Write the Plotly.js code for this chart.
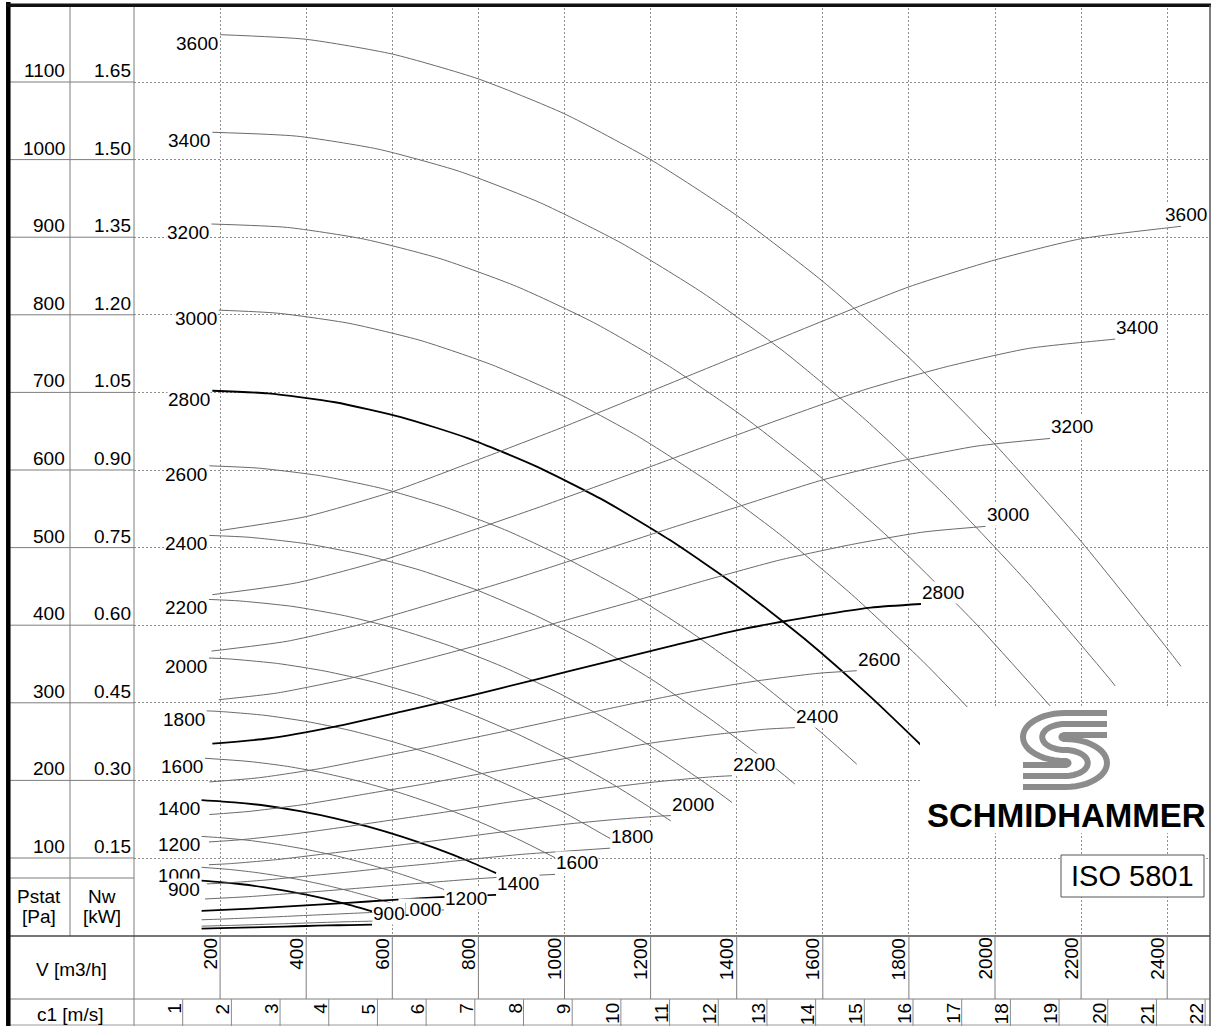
<!DOCTYPE html>
<html><head><meta charset="utf-8">
<script src="https://cdn.plot.ly/plotly-3.0.1.min.js"></script>
<style>html,body{margin:0;padding:0;background:#fff;}#chart{width:1213px;height:1026px;}</style>
</head><body><div id="chart"></div>
<script>
// ---------------- data ----------------
const rpms = [3600,3400,3200,3000,2800,2600,2400,2200,2000,1800,1600,1400,1200,1000,900];
const boldRpms = [2800,1400,900];

// V [m3/h], Pstat [Pa], Nw [kW]
const v3600 = [200,400,600,800,1000,1200,1400,1600,1800,2000,2200,2400,2432];
const p3600 = [1161,1155,1136,1104,1059,1000,928,843,745,633,508,370,347];
const nw3600 = [0.783,0.810,0.858,0.920,0.984,1.052,1.120,1.188,1.254,1.306,1.347,1.368,1.371];

const v3400 = [182,378,567,756,944,1133,1322,1511,1700,1889,2078,2267,2279];
const p3400 = [1035.2,1030.2,1013.5,984.8,944.3,892.1,827.9,752.0,664.3,564.8,453.5,330.3,321.8];
const nw3400 = [0.659,0.682,0.723,0.775,0.829,0.886,0.944,1.001,1.056,1.100,1.135,1.152,1.153];

const v3200 = [180,356,533,711,889,1067,1244,1422,1600,1778,1956,2128];
const p3200 = [917.0,912.6,897.7,872.4,836.5,790.2,733.4,666.2,588.5,500.3,401.7,296.0];
const nw3200 = [0.550,0.569,0.603,0.646,0.691,0.739,0.787,0.834,0.881,0.917,0.946,0.961];

const v3000 = [197,333,500,667,833,1000,1167,1333,1500,1667,1833,1978];
const p3000 = [806.0,802.1,789.0,766.7,735.2,694.5,644.6,585.5,517.2,439.7,353.1,270.1];
const nw3000 = [0.456,0.469,0.497,0.532,0.569,0.609,0.648,0.688,0.726,0.756,0.780,0.791];

const v2800 = [182,311,467,622,778,933,1089,1244,1400,1556,1711,1828];
const p2800 = [702.1,698.7,687.3,667.9,640.5,605.0,561.5,510.0,450.6,383.1,307.6,245.6];
const nw2800 = [0.371,0.381,0.404,0.433,0.463,0.495,0.527,0.559,0.590,0.614,0.634,0.641];

const v2600 = [175,289,433,578,722,867,1011,1156,1300,1444,1589,1679];
const p2600 = [605.4,602.4,592.6,575.9,552.2,521.7,484.1,439.8,388.5,330.3,265.2,220.9];
const nw2600 = [0.297,0.305,0.323,0.347,0.371,0.396,0.422,0.448,0.472,0.492,0.507,0.512];

const v2400 = [175,267,400,533,667,800,933,1067,1200,1333,1467,1535];
const p2400 = [515.7,513.3,505.0,490.7,470.5,444.5,412.5,374.7,331.0,281.4,226.0,195.4];
const nw2400 = [0.234,0.240,0.254,0.273,0.292,0.312,0.332,0.352,0.372,0.387,0.399,0.402];

const v2200 = [174,244,367,489,611,733,856,978,1100,1222,1344,1389];
const p2200 = [433.2,431.3,424.3,412.3,395.4,373.5,346.6,314.9,278.2,236.5,189.9,171.6];
const nw2200 = [0.181,0.185,0.196,0.210,0.225,0.240,0.256,0.271,0.286,0.298,0.307,0.309];

const v2000 = [174,222,333,444,556,667,778,889,1000,1111,1222,1247];
const p2000 = [357.7,356.5,350.7,340.8,326.8,308.7,286.5,260.2,229.9,195.4,156.9,147.7];
const nw2000 = [0.137,0.139,0.147,0.158,0.169,0.180,0.192,0.204,0.215,0.224,0.231,0.232];

const v1800 = [169,200,300,400,500,600,700,800,900,1000,1106];
const p1800 = [289.6,288.8,284.1,276.0,264.7,250.0,232.1,210.8,186.2,158.3,125.1];
const nw1800 = [0.100,0.101,0.107,0.115,0.123,0.132,0.140,0.149,0.157,0.163,0.169];

const v1600 = [165,267,356,444,533,622,711,800,889,978];
const p1600 = [228.5,224.4,218.1,209.1,197.5,183.3,166.5,147.1,125.1,100.4];
const nw1600 = [0.0708,0.0753,0.0808,0.0864,0.0924,0.0983,0.1043,0.1101,0.1147,0.1183];

const v1400 = [157,233,311,389,467,544,622,700,778,841];
const p1400 = [174.7,171.8,167.0,160.1,151.2,140.4,127.5,112.6,95.8,80.5];
const nw1400 = [0.0477,0.0505,0.0541,0.0579,0.0619,0.0659,0.0699,0.0737,0.0768,0.0787];

const v1200 = [157,200,267,333,400,467,533,600,667,720];
const p1200 = [127.8,126.2,122.7,117.6,111.1,103.1,93.7,82.8,70.4,59.4];
const nw1200 = [0.0306,0.0318,0.0341,0.0364,0.0390,0.0415,0.0440,0.0464,0.0484,0.0496];

const v1000 = [157,222,278,333,389,444,500,556,613];
const p1000 = [88.0,85.2,81.7,77.2,71.6,65.1,57.5,48.9,38.9];
const nw1000 = [0.0182,0.0197,0.0211,0.0225,0.0240,0.0255,0.0269,0.0280,0.0289];

const v900 = [157,200,250,300,350,400,450,500,553];
const p900 = [70.8,69.0,66.2,62.5,58.0,52.7,46.6,39.6,31.3];
const nw900 = [0.0136,0.0144,0.0154,0.0164,0.0175,0.0186,0.0196,0.0204,0.0211];

// ticks / labels
const vTicks = [200,400,600,800,1000,1200,1400,1600,1800,2000,2200,2400];
const c1Ticks = [1,2,3,4,5,6,7,8,9,10,11,12,13,14,15,16,17,18,19,20,21,22];
const pstatTicks = [100,200,300,400,500,600,700,800,900,1000,1100];
const nwTicks = [0.15,0.30,0.45,0.60,0.75,0.90,1.05,1.20,1.35,1.50,1.65];
const nwTickLabels = ['0.15','0.30','0.45','0.60','0.75','0.90','1.05','1.20','1.35','1.50','1.65'];

// axis ranges
const vMax = 2500, pMax = 1200, nwMax = 1.8;
const c1Max = 22.105; // c1 [m/s] at V = 2500 m3/h (DN200 inlet)

// ---------------- build ----------------
const curveData = {
  3600:[v3600,p3600,nw3600], 3400:[v3400,p3400,nw3400], 3200:[v3200,p3200,nw3200],
  3000:[v3000,p3000,nw3000], 2800:[v2800,p2800,nw2800], 2600:[v2600,p2600,nw2600],
  2400:[v2400,p2400,nw2400], 2200:[v2200,p2200,nw2200], 2000:[v2000,p2000,nw2000],
  1800:[v1800,p1800,nw1800], 1600:[v1600,p1600,nw1600], 1400:[v1400,p1400,nw1400],
  1200:[v1200,p1200,nw1200], 1000:[v1000,p1000,nw1000], 900:[v900,p900,nw900]
};

const W = 1213, H = 1026;
const px = x => x / W;
const py = y => 1 - y / H;
const FONT = '"Liberation Sans", Arial, Helvetica, sans-serif';
const FS = 19;

const traces = [];
rpms.forEach(r => {
  const [v, p, nw] = curveData[r];
  const bold = boldRpms.includes(r);
  const line = {color: bold ? '#000000' : '#6a6a6a', width: bold ? 1.8 : 1, shape: 'spline', smoothing: 0.6};
  traces.push({x: v, y: p, type: 'scatter', mode: 'lines', line: line, xaxis: 'x', yaxis: 'y', hoverinfo: 'skip', showlegend: false});
  traces.push({x: v, y: nw, type: 'scatter', mode: 'lines', line: line, xaxis: 'x', yaxis: 'y2', hoverinfo: 'skip', showlegend: false});
});
// anchor trace for the c1 axis
traces.push({x: [c1Ticks[0]], y: [-50], xaxis: 'x2', yaxis: 'y', type: 'scatter', mode: 'markers', marker: {opacity: 0}, hoverinfo: 'skip', showlegend: false});

const shapes = [];
const annotations = [];
const gray = '#7d7d7d';

function hline(y, x0, x1, color, width) {
  shapes.push({type: 'line', xref: 'paper', yref: 'paper', x0: px(x0), x1: px(x1), y0: py(y), y1: py(y), line: {color: color, width: width}, layer: 'above'});
}
function vline(x, y0, y1, color, width) {
  shapes.push({type: 'line', xref: 'paper', yref: 'paper', x0: px(x), x1: px(x), y0: py(y0), y1: py(y1), line: {color: color, width: width}, layer: 'above'});
}

// logo background (white) covering grid in logo zone
shapes.push({type: 'rect', xref: 'paper', yref: 'paper', x0: px(920), x1: px(1209), y0: py(833), y1: py(707), fillcolor: '#ffffff', line: {width: 0}, layer: 'above'});

// S logo (three parallel stripes)
function ellPts(cx, cy, rx, ry, a0, a1, n) {
  const pts = [];
  for (let i = 0; i <= n; i++) {
    const a = (a0 + (a1 - a0) * i / n) * Math.PI / 180;
    pts.push([cx + rx * Math.cos(a), cy - ry * Math.sin(a)]);
  }
  return pts;
}
[11, 0, -11].forEach(o => {
  let pts = [[1107, 724 - o], [1065, 724 - o]];
  pts = pts.concat(ellPts(1065, 737, 1.75 * (13 + o), 13 + o, 90, 270, 24));
  pts = pts.concat(ellPts(1065, 763, 1.75 * (13 - o), 13 - o, 90, -90, 24));
  pts.push([1023, 776 - o]);
  const d = pts.map((p, i) => (i ? 'L' : 'M') + px(p[0]).toFixed(5) + ',' + py(p[1]).toFixed(5)).join(' ');
  shapes.push({type: 'path', xref: 'paper', yref: 'paper', path: d, line: {color: '#8c8c8c', width: 6}, layer: 'above'});
});

// ISO box
shapes.push({type: 'rect', xref: 'paper', yref: 'paper', x0: px(1061), x1: px(1204), y0: py(897), y1: py(855), fillcolor: '#ffffff', line: {color: '#555555', width: 1}, layer: 'above'});

// label-column rules
pstatTicks.forEach(p => {
  shapes.push({type: 'line', xref: 'paper', yref: 'y', x0: px(8), x1: px(134), y0: p, y1: p, line: {color: gray, width: 1}, layer: 'above'});
});
hline(878, 8, 134, gray, 1);
vline(70, 5, 936, gray, 1);
vline(134, 5, 1026, gray, 1);
hline(936, 8, 1210, '#4a4a4a', 1.5);
hline(999, 8, 1210, gray, 1);
hline(1025, 8, 1210, '#9a9a9a', 1);

// V row separators
vTicks.forEach(v => {
  shapes.push({type: 'line', xref: 'x', yref: 'paper', x0: v, x1: v, y0: py(999), y1: py(936), line: {color: gray, width: 1}, layer: 'above'});
});
// c1 row separators
c1Ticks.forEach(c => {
  shapes.push({type: 'line', xref: 'x2', yref: 'paper', x0: c, x1: c, y0: py(1026), y1: py(999), line: {color: '#8a8a8a', width: 1}, layer: 'above'});
});

// outer frame
vline(8.3, 2, 1026, '#000000', 4.5);
hline(5.3, 6, 1211, '#111111', 3.5);
vline(1210, 5, 1026, '#555555', 1.5);

// ---------- annotations ----------
function ann(o) {
  annotations.push(Object.assign({showarrow: false, borderpad: 0, font: {family: FONT, size: FS, color: '#000'}}, o));
}

// Pstat / Nw tick labels
pstatTicks.forEach(p => ann({xref: 'paper', x: px(66), xanchor: 'right', yref: 'y', y: p, yanchor: 'bottom', text: String(p)}));
nwTicks.forEach((n, i) => ann({xref: 'paper', x: px(132), xanchor: 'right', yref: 'y2', y: n, yanchor: 'bottom', text: nwTickLabels[i]}));

// headers
ann({xref: 'paper', yref: 'paper', x: px(39), y: py(896), xanchor: 'center', yanchor: 'middle', text: 'Pstat'});
ann({xref: 'paper', yref: 'paper', x: px(39), y: py(916), xanchor: 'center', yanchor: 'middle', text: '[Pa]'});
ann({xref: 'paper', yref: 'paper', x: px(102), y: py(896), xanchor: 'center', yanchor: 'middle', text: 'Nw'});
ann({xref: 'paper', yref: 'paper', x: px(102), y: py(916), xanchor: 'center', yanchor: 'middle', text: '[kW]'});
ann({xref: 'paper', yref: 'paper', x: px(71), y: py(969), xanchor: 'center', yanchor: 'middle', text: 'V [m3/h]'});
ann({xref: 'paper', yref: 'paper', x: px(70), y: py(1014), xanchor: 'center', yanchor: 'middle', text: 'c1 [m/s]'});

// V tick labels (rotated)
vTicks.forEach(v => ann({xref: 'x', x: v, xanchor: 'right', xshift: 1, yref: 'paper', y: py(937), yanchor: 'top', textangle: -90, text: String(v)}));
// c1 tick labels (rotated)
c1Ticks.forEach(c => ann({xref: 'x2', x: c, xanchor: 'right', xshift: 3, yref: 'paper', y: py(1002), yanchor: 'top', textangle: -90, text: String(c)}));

// curve labels: left (start of pressure curves)
rpms.forEach(r => {
  const [v, p] = curveData[r];
  ann({xref: 'x', yref: 'y', x: v[0], y: p[0], xanchor: 'right', yanchor: 'top', xshift: -1, yshift: 3, bgcolor: '#ffffff', text: String(r)});
});
// curve labels: right (end of power curves); the top one is pulled back inside the frame
rpms.forEach((r, i) => {
  const [v, , nw] = curveData[r];
  const n = v.length - 1;
  ann({xref: 'x', yref: 'y2', x: v[n], y: nw[n], xanchor: 'left', yanchor: 'bottom', xshift: i === 0 ? -17 : 0, yshift: 0, bgcolor: '#ffffff', text: String(r)});
});

// brand + standard
ann({xref: 'paper', yref: 'paper', x: px(1066.5), y: py(815), xanchor: 'center', yanchor: 'middle', text: '<b>SCHMIDHAMMER</b>', font: {family: FONT, size: 33, color: '#000'}});
ann({xref: 'paper', yref: 'paper', x: px(1132.5), y: py(876), xanchor: 'center', yanchor: 'middle', text: 'ISO 5801', font: {family: FONT, size: 29, color: '#000'}});

const gridStyle = {showgrid: true, gridcolor: '#8f8f8f', griddash: '2px,2px', gridwidth: 1, zeroline: false, showline: false, ticks: '', showticklabels: false, fixedrange: true};

const layout = {
  width: W, height: H,
  margin: {l: 0, r: 0, t: 0, b: 0, pad: 0},
  paper_bgcolor: '#ffffff', plot_bgcolor: 'rgba(0,0,0,0)',
  showlegend: false,
  font: {family: FONT, size: FS, color: '#000'},
  xaxis: Object.assign({domain: [px(134), px(1210.25)], range: [0, vMax], tickvals: vTicks}, gridStyle),
  yaxis: Object.assign({domain: [py(935.6), py(4.4)], range: [0, pMax], tickvals: pstatTicks}, gridStyle),
  yaxis2: {overlaying: 'y', anchor: 'x', range: [0, nwMax], visible: false, fixedrange: true},
  xaxis2: {overlaying: 'x', anchor: 'y', range: [0, c1Max], visible: false, fixedrange: true},
  shapes: shapes,
  annotations: annotations
};

Plotly.newPlot('chart', traces, layout, {staticPlot: true, displayModeBar: false});
</script>
</body></html>
